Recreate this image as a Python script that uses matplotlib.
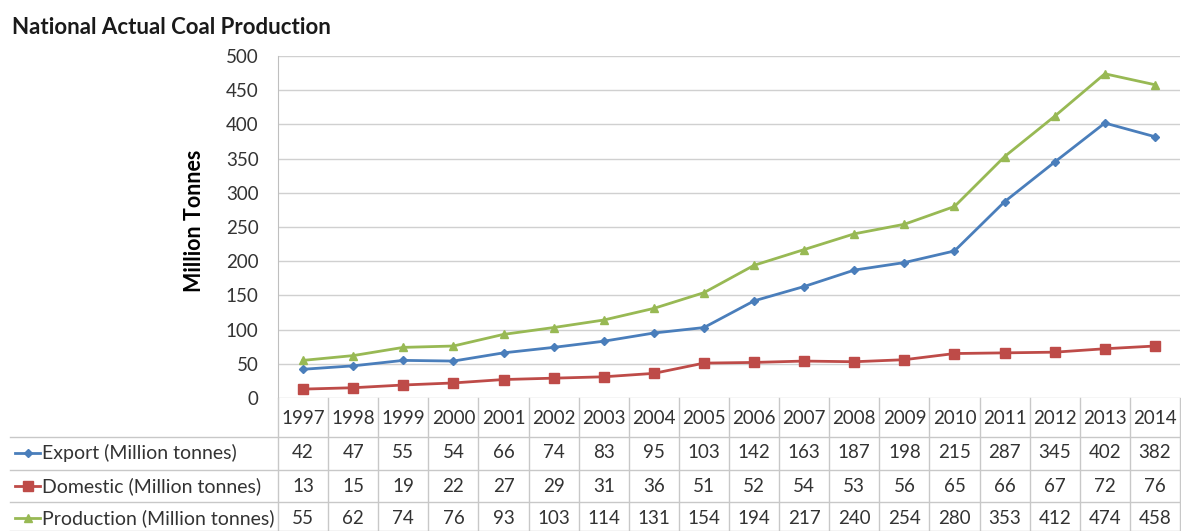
import numpy as np
import matplotlib
matplotlib.use('Agg')
import matplotlib.pyplot as plt
import matplotlib.transforms as mtransforms
from matplotlib.lines import Line2D

years = ['1997', '1998', '1999', '2000', '2001', '2002', '2003', '2004', '2005',
         '2006', '2007', '2008', '2009', '2010', '2011', '2012', '2013', '2014']
export = [42, 47, 55, 54, 66, 74, 83, 95, 103, 142, 163, 187, 198, 215, 287, 345, 402, 382]
domestic = [13, 15, 19, 22, 27, 29, 31, 36, 51, 52, 54, 53, 56, 65, 66, 67, 72, 76]
production = [55, 62, 74, 76, 93, 103, 114, 131, 154, 194, 217, 240, 254, 280, 353, 412, 474, 458]
series_names = ['Export (Million tonnes)', 'Domestic (Million tonnes)', 'Production (Million tonnes)']
yticks = [0, 50, 100, 150, 200, 250, 300, 350, 400, 450, 500]

FONT = ['Lato', 'DejaVu Sans']
plt.rcParams['font.family'] = FONT

W, H = 1181, 531
fig = plt.figure(figsize=(W / 100, H / 100), dpi=100)
L, R, T, B = 278, 1180, 56, 398
ax = fig.add_axes([L / W, 1 - B / H, (R - L) / W, (B - T) / H])

n = len(years)
x = np.arange(n)
ax.set_xlim(-0.5, n - 0.5)
ax.set_ylim(0, 500)

colors = ['#4A7EBB', '#BE4B48', '#98B954']
markers = ['D', 's', '^']
msizes = [4.5, 7, 6]
series = [export, domestic, production]

NUM_FS = 13.5
ax.set_yticks(yticks)
ax.set_yticklabels([str(v) for v in yticks], fontsize=NUM_FS, color='#333333')
ax.tick_params(axis='y', length=0, pad=14)
ax.set_xticks([])
ax.grid(axis='y', color='#D0D0D0', linewidth=1)
ax.set_axisbelow(True)
for s in ['top', 'right', 'bottom']:
    ax.spines[s].set_visible(False)
ax.spines['left'].set_color('#BFBFBF')

for vals, c, m, ms in zip(series, colors, markers, msizes):
    ax.plot(x, vals, color=c, linewidth=2, marker=m, markersize=ms,
            markerfacecolor=c, markeredgecolor=c, zorder=3)

ax.set_ylabel('Million Tonnes', fontsize=15.5, fontweight='bold')
ax.yaxis.set_label_coords(-(L - 205) / (R - L), 1 - (221 - T) / (B - T))

fig.text(12 / W, 1 - 28 / H, 'National Actual Coal Production', fontsize=16,
         fontweight='bold', ha='left', va='center', color='#1a1a1a')

# data table
trans = mtransforms.blended_transform_factory(ax.transData, fig.transFigure)
def fy(py):
    return 1 - py / H

line_c = '#C8C8C8'
for k in range(n + 1):
    xv = k - 0.5
    fig.add_artist(Line2D([xv, xv], [fy(B), fy(H)], transform=trans, color=line_c, linewidth=1))
for py in [437, 470, 502, 531]:
    fig.add_artist(Line2D([10 / W, R / W], [fy(py), fy(py)], transform=fig.transFigure,
                          color=line_c, linewidth=1))

header_y = 418
row_ys = [453, 486, 518]
for i, yr in enumerate(years):
    t = fig.text(0, 0, yr, transform=trans, fontsize=NUM_FS, ha='center', va='center',
                 color='#333333')
    t.set_position((x[i], fy(header_y)))

for r, (vals, name, c, m, ms) in enumerate(zip(series, series_names, colors, markers, msizes)):
    py = row_ys[r]
    for i, v in enumerate(vals):
        t = fig.text(0, 0, str(v), transform=trans, fontsize=NUM_FS, ha='center', va='center',
                     color='#333333')
        t.set_position((x[i], fy(py)))
    fig.add_artist(Line2D([15 / W, 40 / W], [fy(py), fy(py)], transform=fig.transFigure,
                          color=c, linewidth=2))
    fig.add_artist(Line2D([27.5 / W], [fy(py)], transform=fig.transFigure, color=c,
                          marker=m, markersize=ms, linestyle='none'))
    fig.text(42 / W, fy(py), name, fontsize=14, ha='left', va='center', color='#333333')

fig.savefig('out.png', dpi=100, facecolor='white')
